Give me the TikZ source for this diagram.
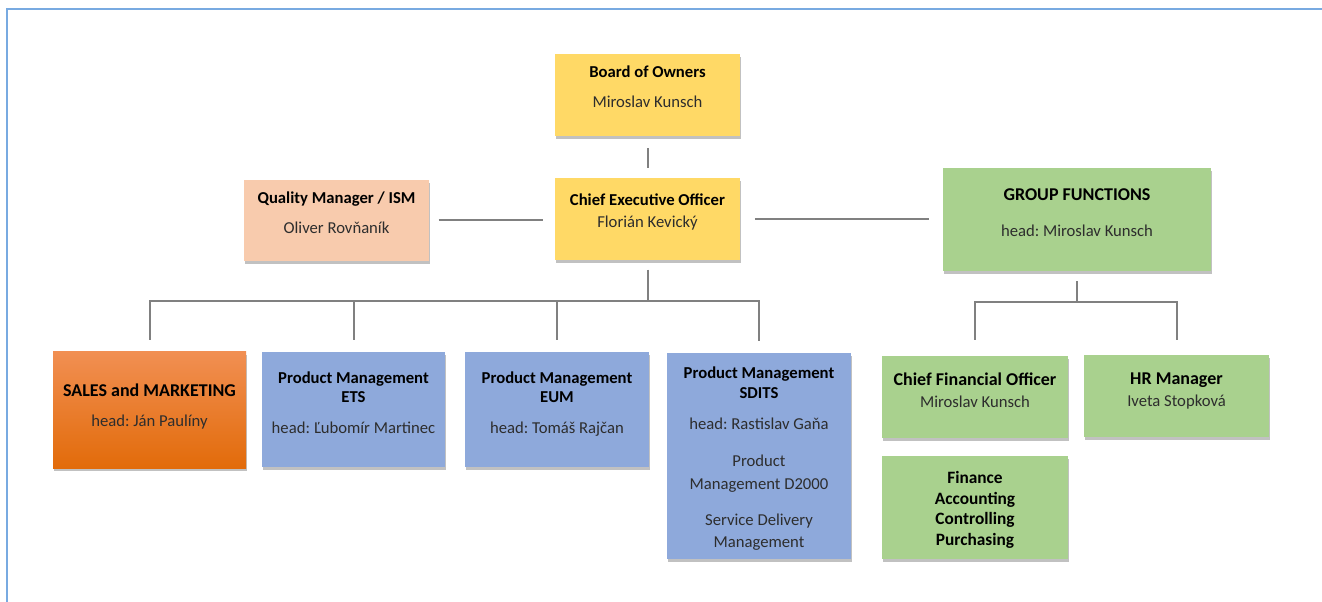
\documentclass[tikz,border=0pt]{standalone}
\usepackage{fontspec}
\setmainfont{Carlito}
\usetikzlibrary{positioning,shadows}
\frenchspacing

\definecolor{ownyellow}{RGB}{255,217,102}
\definecolor{qmpeach}{RGB}{248,203,173}
\definecolor{grpgreen}{RGB}{169,209,142}
\definecolor{pmblue}{RGB}{142,169,219}
\definecolor{salestop}{RGB}{241,143,82}
\definecolor{salesbot}{RGB}{226,107,10}
\definecolor{linkgray}{RGB}{128,128,128}
\definecolor{frameblue}{RGB}{120,170,225}
\definecolor{nametext}{RGB}{45,45,45}

\newcommand{\pname}[1]{\textcolor{nametext}{#1}}
\newcommand{\bigttl}[1]{{\fontsize{13.5}{16}\selectfont\textbf{#1}}}

\tikzset{
  box/.style={rectangle, inner sep=0pt,
    drop shadow={shadow xshift=1pt, shadow yshift=-2.5pt, fill=black!70, opacity=0.35}},
  txt/.style={align=center, inner sep=0pt, font=\fontsize{12.5}{15}\selectfont},
  link/.style={draw=linkgray, line width=1.5pt},
  frame/.style={draw=frameblue, line width=1.5pt}
}

\begin{document}
\begin{tikzpicture}[x=0.75pt, y=-0.75pt]
  \useasboundingbox (0,0) rectangle (1322,602);
  \draw[frame] (7,602) |- (1322,9);

  % top of the chart
  \node[box, fill=ownyellow, minimum width=138.75pt, minimum height=61.5pt] (board) at (647.5,95) {};
  \node[box, fill=ownyellow, minimum width=138.75pt, minimum height=61.5pt] (ceo) at (647.5,219) {};
  \node[box, fill=qmpeach, minimum width=138.75pt, minimum height=60.75pt] (qm) at (336.5,220.5) {};
  \node[box, fill=grpgreen, minimum width=201pt, minimum height=77.25pt] (group) at (1077,219.5) {};

  \node[txt, below=9pt of board.north] (board-t) {\textbf{Board of Owners}\\[7.5pt]\pname{Miroslav Kunsch}};
  \node[txt, below=11.5pt of ceo.north] (ceo-t) {\textbf{Chief Executive Officer}\\[2pt]\pname{Florián Kevický}};
  \node[txt, below=9pt of qm.north] (qm-t) {\textbf{Quality Manager / ISM}\\[7.5pt]\pname{Oliver Rovňaník}};
  \node[txt, below=15.5pt of group.north] (group-t) {\bigttl{GROUP FUNCTIONS}\\[12pt]\pname{head: Miroslav Kunsch}};

  % divisions under the CEO
  \node[box, top color=salestop, bottom color=salesbot, minimum width=144.75pt, minimum height=87pt] (sales) at (149.5,410) {};
  \node[box, fill=pmblue, minimum width=137.25pt, minimum height=86.25pt] (ets) at (353.5,409.5) {};
  \node[box, fill=pmblue, minimum width=138pt, minimum height=86.25pt] (eum) at (557,409.5) {};
  \node[box, fill=pmblue, minimum width=138pt, minimum height=154.5pt] (sdits) at (759,456) {};

  \node[txt, below=24pt of sales.north] (sales-t) {\bigttl{SALES and MARKETING}\\[7.5pt]\pname{head: Ján Paulíny}};
  \node[txt, below=15pt of ets.north] (ets-t) {\textbf{Product Management}\\[-1pt]\textbf{ETS}\\[8pt]\pname{head: Ľubomír Martinec}};
  \node[txt, below=15pt of eum.north] (eum-t) {\textbf{Product Management}\\[-1pt]\textbf{EUM}\\[8pt]\pname{head: Tomáš Rajčan}};
  \node[txt, below=10.5pt of sdits.north] (sdits-t) {\textbf{Product Management}\\\textbf{SDITS}\\[8pt]\pname{head: Rastislav Gaňa}\\[12.75pt]
    \pname{Product}\\[2pt]\pname{Management D2000}\\[12pt]\pname{Service Delivery}\\[1.5pt]\pname{Management}};

  % group functions
  \node[box, fill=grpgreen, minimum width=139.5pt, minimum height=61.5pt] (cfo) at (975,397) {};
  \node[box, fill=grpgreen, minimum width=138.75pt, minimum height=61.5pt] (hr) at (1176.5,396) {};
  \node[box, fill=grpgreen, minimum width=139.5pt, minimum height=77.25pt] (fin) at (975,507.5) {};

  \node[txt, below=12.5pt of cfo.north] (cfo-t) {\bigttl{Chief Financial Officer}\\[2pt]\pname{Miroslav Kunsch}};
  \node[txt, below=13pt of hr.north] (hr-t) {\bigttl{HR Manager}\\[2pt]\pname{Iveta Stopková}};
  \node[txt, below=11.5pt of fin.north, font=\fontsize{13}{15.5}\selectfont\bfseries] (fin-t) {Finance\\Accounting\\Controlling\\Purchasing};

  % connectors
  \coordinate (ceobus) at (0,301);
  \coordinate (grpbus) at (0,302);

  \draw[link, shorten <=9pt, shorten >=7.5pt] (board) -- (ceo);
  \draw[link, shorten <=7pt, shorten >=9pt] (qm.east) -- (qm.east -| ceo.west);
  \draw[link, shorten <=11pt, shorten >=10.5pt] (ceo.east) -- (ceo.east -| group.west);

  \draw[link, shorten <=7pt] (ceo.south) -- (ceo.south |- ceobus);
  \draw[link, shorten <=9pt, shorten >=9pt] (sales.north) |- (sdits.north |- ceobus) -- (sdits.north);
  \foreach \b in {ets,eum}
    \draw[link, shorten >=9pt] (\b.north |- ceobus) -- (\b.north);

  \draw[link, shorten <=7.5pt] (group.south) -- (group.south |- grpbus);
  \draw[link, shorten <=12pt, shorten >=11pt] (cfo.north) |- (hr.north |- grpbus) -- (hr.north);
\end{tikzpicture}
\end{document}
